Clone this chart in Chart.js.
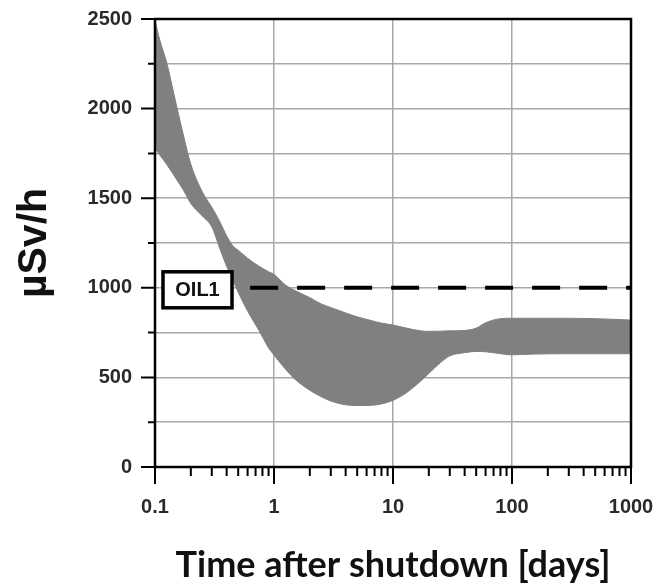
<!DOCTYPE html>
<html>
<head>
<meta charset="utf-8">
<script src="https://cdn.jsdelivr.net/npm/chart.js@4.4.1/dist/chart.umd.min.js"></script>
<style>
  html, body { margin: 0; padding: 0; background: #fff; }
  #wrap { width: 658px; height: 588px; }
</style>
</head>
<body>
<div id="wrap"><canvas id="doseChart"></canvas></div>
<script>
// values (time in days, dose rate in µSv/h)
const days = [0.1, 0.11, 0.125, 0.15, 0.175, 0.2, 0.25, 0.3, 0.35, 0.4, 0.45, 0.5, 0.6, 0.75, 0.9, 1,
              1.25, 1.5, 2, 2.5, 3, 4, 5, 6.5, 8, 10, 13, 17, 20, 25, 30, 40, 50, 60, 75, 100,
              150, 300, 600, 1000];
const upperRate = [2490, 2380, 2260, 2030, 1840, 1690, 1535, 1450, 1370, 1290, 1235, 1210, 1165, 1120, 1090, 1075,
                   1015, 985, 945, 910, 890, 860, 838, 818, 803, 792, 775, 760, 757, 758, 760, 762, 775, 805, 825, 830,
                   830, 830, 826, 820];
const lowerRate = [1779, 1740, 1690, 1610, 1540, 1470, 1400, 1340, 1220, 1120, 1045, 975, 870, 760, 665, 625,
                   545, 490, 428, 392, 368, 347, 343, 344, 352, 372, 415, 478, 522, 582, 620, 638, 645, 643, 635, 626,
                   630, 632, 632, 632];

// OIL1 operational intervention level
const oilLabel = 'OIL1';
const oilDays = [0.63, 1000];
const oilRate = [1000, 1000];

const xTicks = [0.1, 1, 10, 100, 1000];
const yMax = 2500;

const toPoints = (xs, ys) => xs.map((x, i) => ({ x: x, y: ys[i] }));

// frame, tick marks and the OIL1 box
const decorPlugin = {
    id: 'decor',
    afterDatasetsDraw(chart) {
        const ctx = chart.ctx;
        const area = chart.chartArea;
        const xs = chart.scales.x;
        const ys = chart.scales.y;
        ctx.save();

        // OIL1 box
        const bx = xs.getPixelForValue(xTicks[0]) + 8;
        const by = ys.getPixelForValue(oilRate[0]);
        const bw = 69, bh = 36;
        ctx.fillStyle = '#fff';
        ctx.fillRect(bx, by - bh / 2 + 2, bw, bh);
        ctx.lineWidth = 3.5;
        ctx.strokeStyle = '#000';
        ctx.strokeRect(bx, by - bh / 2 + 2, bw, bh);
        ctx.fillStyle = '#111';
        ctx.font = 'bold 20px "Liberation Sans", Arial, sans-serif';
        ctx.textAlign = 'center';
        ctx.textBaseline = 'middle';
        ctx.fillText(oilLabel, bx + bw / 2, by + 3);

        // tick marks
        ctx.strokeStyle = '#000';
        ctx.lineWidth = 2;
        ctx.beginPath();
        for (let v = 0; v <= yMax; v += 250) {
            const py = ys.getPixelForValue(v);
            const len = v % 500 === 0 ? 14 : 7;
            ctx.moveTo(area.left - len, py);
            ctx.lineTo(area.left, py);
        }
        for (let e = -1; e <= 3; e++) {
            for (let d = 1; d <= 9; d++) {
                const v = d * Math.pow(10, e);
                if (v > 1000) break;
                const px = xs.getPixelForValue(v);
                const len = d === 1 ? 17 : 9;
                ctx.moveTo(px, area.bottom);
                ctx.lineTo(px, area.bottom + len);
            }
        }
        ctx.stroke();

        // frame
        ctx.lineWidth = 2.5;
        ctx.strokeRect(area.left, area.top, area.right - area.left, area.bottom - area.top);
        ctx.restore();
    }
};

const ctx = document.getElementById('doseChart').getContext('2d');
const doseChart = new Chart(ctx, {
    type: 'line',
    data: {
        datasets: [
            {
                label: 'upper',
                data: toPoints(days, upperRate),
                borderColor: '#808080',
                backgroundColor: '#808080',
                borderWidth: 1,
                pointRadius: 0,
                cubicInterpolationMode: 'monotone',
                fill: false,
                order: 2
            },
            {
                label: 'lower',
                data: toPoints(days, lowerRate),
                borderColor: '#808080',
                backgroundColor: '#808080',
                borderWidth: 1,
                pointRadius: 0,
                cubicInterpolationMode: 'monotone',
                fill: '-1',
                order: 2
            },
            {
                label: oilLabel,
                data: toPoints(oilDays, oilRate),
                borderColor: '#000',
                borderWidth: 4,
                borderDash: [28, 19],
                borderCapStyle: 'butt',
                pointRadius: 0,
                fill: false,
                order: 0
            }
        ]
    },
    options: {
        responsive: true,
        maintainAspectRatio: false,
        animation: false,
        layout: { padding: { top: 19, right: 27, left: 0, bottom: 0 } },
        plugins: {
            legend: { display: false },
            tooltip: { enabled: false }
        },
        scales: {
            x: {
                type: 'logarithmic',
                min: 0.1,
                max: 1000,
                afterBuildTicks: function(scale) {
                    scale.ticks = xTicks.map(v => ({ value: v }));
                },
                afterFit: function(scale) {
                    scale.height = 121;
                    scale.paddingLeft = 0;
                    scale.paddingRight = 0;
                },
                ticks: {
                    color: '#2a2a2a',
                    font: { family: '"Liberation Sans", Arial, sans-serif', size: 20, weight: 'bold' },
                    padding: 11,
                    maxRotation: 0,
                    autoSkip: false,
                    callback: function(value) { return String(value); }
                },
                grid: {
                    color: '#a8a8a8',
                    lineWidth: 1.5,
                    tickLength: 17,
                    tickColor: 'rgba(0,0,0,0)'
                },
                border: { display: false },
                title: {
                    display: true,
                    text: 'Time after shutdown [days]',
                    color: '#111',
                    font: { family: 'Lato, "Open Sans", sans-serif', size: 36, weight: 'bold' },
                    padding: { top: 0, bottom: 1 }
                }
            },
            y: {
                min: 0,
                max: yMax,
                afterFit: function(scale) {
                    scale.width = 155;
                    scale.paddingTop = 0;
                    scale.paddingBottom = 0;
                },
                ticks: {
                    stepSize: 250,
                    color: '#2a2a2a',
                    font: { family: '"Liberation Sans", Arial, sans-serif', size: 20, weight: 'bold' },
                    padding: 9,
                    callback: function(value) { return value % 500 === 0 ? String(value) : ''; }
                },
                grid: {
                    color: '#a8a8a8',
                    lineWidth: 1.5,
                    tickLength: 14,
                    tickColor: 'rgba(0,0,0,0)'
                },
                border: { display: false },
                title: {
                    display: true,
                    text: 'µSv/h',
                    color: '#111',
                    font: { family: '"Liberation Sans", Arial, sans-serif', size: 41, weight: 'bold' },
                    padding: { top: 10, bottom: 0 }
                }
            }
        }
    },
    plugins: [decorPlugin]
});
</script>
</body>
</html>
